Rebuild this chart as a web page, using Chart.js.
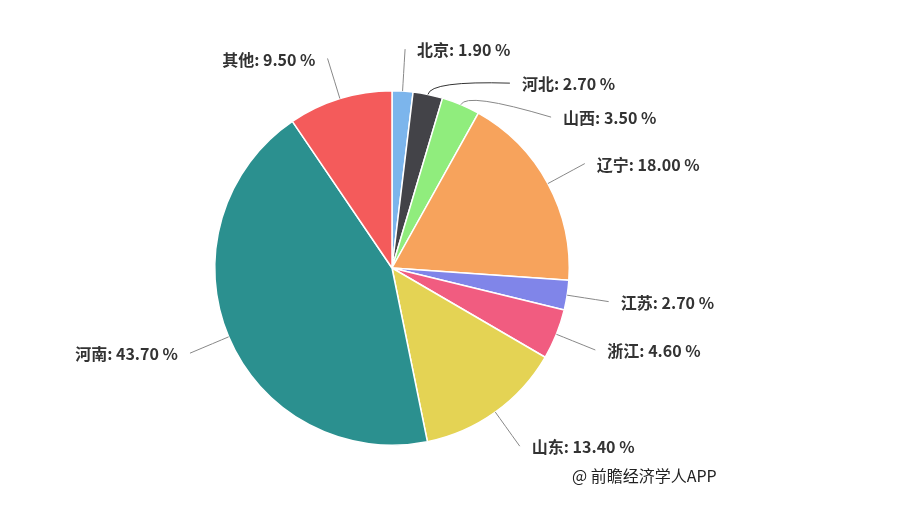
<!DOCTYPE html>
<html>
<head>
<meta charset="utf-8">
<script src="https://cdn.jsdelivr.net/npm/chart.js@4"></script>
<style>
  html, body { margin: 0; padding: 0; background: #fff; }
  #wrap { width: 918px; height: 512px; position: relative; }
</style>
</head>
<body>
<div id="wrap"><canvas id="pie" width="918" height="512"></canvas></div>
<script>
// provinces, clockwise from 12 o'clock
const categories = ['北京', '河北', '山西', '辽宁', '江苏', '浙江', '山东', '河南', '其他'];
const shares = [1.90, 2.70, 3.50, 18.00, 2.70, 4.60, 13.40, 43.70, 9.50];
const sliceColors = ['#7cb5ec', '#434348', '#90ed7d', '#f7a35c', '#8085e9', '#f15c80', '#e4d354', '#2b908f', '#f45b5b'];

const FONT = '"Noto Sans CJK SC", "Noto Sans", sans-serif';

// outside labels, pushed apart vertically when they would overlap
const outsideLabels = {
    id: 'outsideLabels',
    afterDatasetsDraw(chart, args, opts) {
        const ctx = chart.ctx;
        const arcs = chart.getDatasetMeta(0).data;
        const cx0 = arcs[0].x, cy0 = arcs[0].y;
        const R = arcs[0].outerRadius + opts.distance;

        let items = arcs.map((arc, i) => {
            const mid = (arc.startAngle + arc.endAngle) / 2;
            return { i, arc, mid, right: Math.cos(mid) >= 0, y: cy0 + Math.sin(mid) * R };
        });
        // resolve overlaps top-down on each side
        [true, false].forEach(side => {
            const list = items.filter(it => it.right === side).sort((a, b) => a.y - b.y);
            for (let k = 1; k < list.length; k++) {
                if (list[k].y < list[k - 1].y + opts.gap) list[k].y = list[k - 1].y + opts.gap;
            }
        });

        ctx.save();
        items.forEach(it => {
            const { arc, mid, i } = it;
            const r = arc.outerRadius;
            const dy = it.y - cy0;
            const dx = Math.sqrt(Math.max(R * R - dy * dy, 0)) * (it.right ? 1 : -1);
            const ex = cx0 + dx, ey = it.y;
            const sx = cx0 + Math.cos(mid) * r, sy = cy0 + Math.sin(mid) * r;
            const qx = cx0 + Math.cos(mid) * (r + 14), qy = cy0 + Math.sin(mid) * (r + 14);

            ctx.strokeStyle = i === 1 ? '#333' : '#888';
            ctx.lineWidth = 1;
            ctx.beginPath();
            ctx.moveTo(sx, sy);
            ctx.quadraticCurveTo(qx, qy, ex, ey);
            ctx.stroke();

            ctx.font = 'bold 16px ' + FONT;
            ctx.fillStyle = '#333';
            ctx.textBaseline = 'middle';
            ctx.textAlign = it.right ? 'left' : 'right';
            const txt = categories[i] + ': ' + shares[i].toFixed(2) + ' %';
            ctx.fillText(txt, it.right ? ex + 12 : ex - 12, ey + 1);
        });
        ctx.font = '16px ' + FONT;
        ctx.fillStyle = '#222';
        ctx.textAlign = 'left';
        ctx.textBaseline = 'middle';
        ctx.fillText('@ 前瞻经济学人APP', 572, 476);
        ctx.restore();
    }
};

const chart = new Chart(document.getElementById('pie'), {
    type: 'pie',
    data: {
        labels: categories,
        datasets: [{
            data: shares,
            backgroundColor: sliceColors,
            borderColor: '#ffffff',
            borderWidth: 1.5
        }]
    },
    options: {
        responsive: false,
        animation: false,
        layout: { padding: { left: 214, right: 348, top: 90, bottom: 66 } },
        plugins: {
            legend: { display: false },
            tooltip: { enabled: false },
            outsideLabels: { distance: 42, gap: 34 }
        }
    },
    plugins: [outsideLabels]
});
</script>
</body>
</html>
